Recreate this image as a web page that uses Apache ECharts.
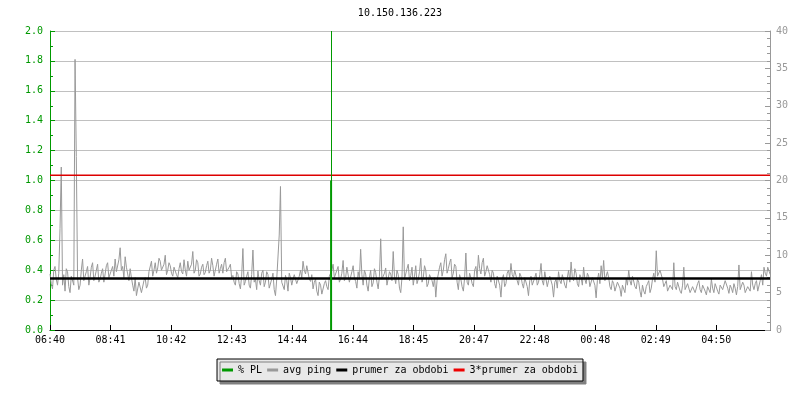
<!DOCTYPE html>
<html>
<head>
<meta charset="utf-8">
<script src="https://cdn.jsdelivr.net/npm/echarts@6/dist/echarts.min.js"></script>
<style>html,body{margin:0;padding:0;background:#fff}#c{width:800px;height:400px}</style>
</head>
<body>
<div id="c"></div>
<script>
// ---- data ----
var title = '10.150.136.223';
var xLabels = ['06:40','08:41','10:42','12:43','14:44','16:44','18:45','20:47','22:48','00:48','02:49','04:50'];
var xSpanMinutes = 1437;      // plotted time span (minutes from 06:40)
var xLabelStep = 120.9;       // minutes between labelled ticks
var pingStepMinutes = 2.5;    // sample step of avg ping
var avgPing = [
7.5,6.2,5.5,8.0,8.5,6.8,6.0,7.6,13.6,21.8,6.0,7.4,5.2,8.2,7.8,5.8,5.0,7.2,7.0,6.0,
36.2,23.2,7.0,5.4,6.0,8.0,9.5,6.6,6.5,7.8,8.5,6.0,7.0,8.4,9.0,6.6,7.2,8.0,8.8,6.4,
6.8,7.6,8.2,6.4,7.5,8.6,9.0,7.0,7.0,8.0,8.5,7.2,9.5,7.8,8.0,9.4,11.0,8.0,8.5,7.0,
9.8,8.4,7.5,6.6,8.2,7.0,6.0,5.2,7.0,4.6,4.8,6.4,6.2,5.0,5.0,6.6,7.0,5.6,6.0,7.8,
8.0,9.2,7.2,8.0,9.0,7.6,8.3,9.6,9.2,8.0,7.8,8.8,10.0,7.4,8.0,9.0,8.6,7.6,7.2,8.4,
8.5,7.4,7.0,8.2,9.0,7.8,7.5,9.4,8.0,7.2,9.2,8.0,7.8,8.8,10.5,7.6,8.0,9.4,9.0,7.2,
7.5,8.4,8.8,7.4,7.7,8.6,9.2,7.6,8.0,9.6,8.6,7.2,7.4,8.8,9.5,7.6,8.2,8.8,7.6,9.0,
9.6,7.8,8.0,8.4,8.8,7.0,7.3,6.4,6.0,7.8,7.5,6.2,5.5,7.2,10.9,6.0,6.5,7.2,7.8,6.0,
5.6,7.4,10.7,6.4,6.8,5.4,7.9,6.6,6.0,7.6,8.0,5.8,6.4,7.8,7.4,5.6,5.8,6.8,7.6,5.4,
4.6,6.8,7.0,12.7,19.2,6.4,6.2,5.4,7.3,6.6,5.2,7.6,7.0,6.0,6.8,7.4,7.6,6.2,6.3,7.2,
8.0,7.0,9.2,8.0,7.5,8.6,8.8,6.8,6.5,7.4,5.5,6.4,6.8,5.2,4.6,6.4,6.0,4.8,5.0,6.2,
6.6,5.8,5.4,7.2,7.0,8.0,8.8,7.0,7.2,8.0,8.5,6.4,6.8,7.6,9.3,6.6,7.0,8.4,8.2,6.4,
6.2,7.8,8.6,7.0,6.5,5.6,7.8,6.8,10.8,7.4,6.0,8.0,7.5,6.0,5.2,7.0,8.0,5.8,6.3,8.2,
7.7,6.4,5.5,7.2,12.2,6.8,6.6,7.6,8.3,6.0,5.8,7.8,7.5,6.6,10.5,7.2,6.2,8.0,7.4,5.6,
5.0,7.0,13.8,6.8,7.0,8.2,8.8,6.6,7.3,8.4,6.0,7.2,8.6,6.2,6.8,7.8,9.6,6.4,7.0,8.6,
8.0,5.8,6.2,7.4,7.6,6.6,5.8,7.0,4.4,6.6,7.5,8.4,9.0,7.2,8.0,9.4,10.2,7.6,8.2,9.0,
9.5,7.0,7.6,8.8,8.5,6.4,5.4,7.4,6.8,5.8,5.2,7.0,10.3,6.4,6.0,7.6,7.0,6.2,5.8,8.0,
8.5,7.0,10.0,8.2,7.5,9.0,9.6,7.2,7.8,8.6,8.8,7.4,6.4,8.0,7.6,6.2,5.6,7.2,7.0,6.0,
4.4,6.8,7.4,5.8,6.2,7.6,8.0,7.0,8.9,7.4,7.0,8.0,8.2,6.6,6.0,7.6,7.2,6.2,5.6,7.0,
6.8,5.8,4.6,6.6,7.2,6.0,5.8,7.0,7.6,6.0,6.4,7.4,8.9,6.6,6.0,7.8,7.8,5.8,6.6,7.2,
7.4,6.0,4.4,6.4,6.8,5.6,7.8,6.6,6.2,7.4,7.5,6.0,5.6,7.0,8.0,6.4,9.1,7.0,6.6,8.2,
7.6,6.2,5.8,7.4,7.0,6.0,8.4,6.8,6.2,7.6,7.2,5.8,5.6,7.0,6.8,6.0,4.3,6.6,7.6,6.2,
8.6,7.0,9.3,6.6,6.4,7.8,7.0,5.8,5.4,6.6,6.2,5.2,5.0,6.4,6.6,5.6,4.5,6.0,5.8,5.0,
6.8,6.0,8.0,6.6,6.0,7.2,7.4,5.8,5.5,6.8,6.4,5.2,4.4,6.0,5.2,4.8,5.8,6.2,6.6,5.0,
5.6,6.8,7.6,6.4,10.6,7.2,7.0,8.0,8.2,6.8,5.8,6.2,6.6,5.2,5.0,6.0,6.0,5.4,9.0,5.8,
5.4,6.4,6.2,5.2,4.9,6.0,8.4,5.4,5.6,6.2,6.4,5.0,4.8,5.8,5.8,5.0,5.2,6.2,6.6,5.4,
5.0,6.0,6.2,5.2,4.7,5.8,5.6,5.0,6.8,5.6,5.0,6.2,6.0,5.2,4.8,6.0,5.8,5.4,5.2,6.6,
6.4,5.6,4.9,6.0,5.6,5.0,6.2,5.6,4.7,5.8,8.7,5.4,5.2,6.4,6.0,5.0,4.8,5.8,5.8,5.2,
7.8,6.0,5.4,6.2,6.6,5.2,5.0,6.6,7.4,6.0,8.4,7.6,7.2,8.4,8.2,7.4
];
var plTimes = [561, 561];     // packet-loss event (minutes from 06:40)
var plValues = [0, 1.0];      // % PL
var plPeakTime = 561;
var meanPing = 6.9;           // prumer za obdobi (ms)
var meanFactor = 3;           // 3*prumer za obdobi

// ---- build ----
var FONT = 'DejaVu Sans Mono';
var GREEN = '#009900';
var pingData = avgPing.map(function (v, i) { return [i * pingStepMinutes, v]; });
var plData = plTimes.map(function (t, i) { return [t, plValues[i]]; });
var meanData = [[0, meanPing], [xSpanMinutes, meanPing]];
var mean3Data = [[0, meanPing * meanFactor], [xSpanMinutes, meanPing * meanFactor]];

var chart = echarts.init(document.getElementById('c'), null, {renderer: 'canvas'});
chart.setOption({
  animation: false,
  backgroundColor: '#ffffff',
  textStyle: {fontFamily: FONT},
  title: {
    text: title, left: 'center', top: 3,
    textStyle: {fontFamily: FONT, fontSize: 10, fontWeight: 'normal', color: '#000'}
  },
  grid: {left: 50, right: 30, top: 31, bottom: 70, containLabel: false},
  legend: {
    left: 'center', top: 359,
    padding: [6, 5], itemGap: 5,
    itemWidth: 11, itemHeight: 3, icon: 'rect',
    backgroundColor: '#e8e8e8', borderColor: '#000', borderWidth: 1,
    shadowColor: '#808080', shadowOffsetX: 3, shadowOffsetY: 3, shadowBlur: 0,
    textStyle: {fontFamily: FONT, fontSize: 10, color: '#000'},
    data: ['% PL', 'avg ping', 'prumer za obdobi', '3*prumer za obdobi']
  },
  xAxis: {
    type: 'value', min: 0, max: xSpanMinutes, interval: xLabelStep,
    axisLine: {show: true, lineStyle: {color: '#000', width: 1}},
    axisTick: {show: true, inside: true, length: 5, lineStyle: {color: '#000'}},
    splitLine: {show: false},
    axisLabel: {
      margin: 5, color: '#000', fontFamily: FONT, fontSize: 10, showMaxLabel: false,
      formatter: function (v) {
        var k = Math.round(v / xLabelStep);
        if (Math.abs(v - k * xLabelStep) > 0.5) return '';
        return xLabels[k] || '';
      }
    }
  },
  yAxis: [{
    type: 'value', position: 'left', min: 0, max: 2, interval: 0.2,
    axisLine: {show: true, lineStyle: {color: GREEN, width: 1}},
    axisTick: {show: true, inside: true, length: 5, lineStyle: {color: GREEN}},
    minorTick: {show: true, splitNumber: 2, length: 3, lineStyle: {color: GREEN}},
    splitLine: {show: true, lineStyle: {color: '#c0c0c0', width: 1}},
    axisLabel: {margin: 7, color: GREEN, fontFamily: FONT, fontSize: 10,
      formatter: function (v) { return v.toFixed(1); }}
  }, {
    type: 'value', position: 'right', min: 0, max: 40, interval: 5,
    axisLine: {show: true, lineStyle: {color: '#999999', width: 1}},
    axisTick: {show: true, inside: true, length: 5, lineStyle: {color: '#999999'}},
    minorTick: {show: true, splitNumber: 5, length: 3, lineStyle: {color: '#999999'}},
    splitLine: {show: false},
    axisLabel: {margin: 6, color: '#999999', fontFamily: FONT, fontSize: 10}
  }],
  series: [{
    name: 'avg ping', type: 'line', yAxisIndex: 1, data: pingData,
    color: '#999999', showSymbol: false, symbol: 'none',
    lineStyle: {color: '#999999', width: 1}, z: 2
  }, {
    name: 'prumer za obdobi', type: 'line', yAxisIndex: 1, data: meanData,
    color: '#000000', showSymbol: false, symbol: 'none',
    lineStyle: {color: '#000000', width: 2.5}, z: 3
  }, {
    name: '3*prumer za obdobi', type: 'line', yAxisIndex: 1, data: mean3Data,
    color: '#ee0000', showSymbol: false, symbol: 'none',
    lineStyle: {color: '#dd0000', width: 1.5}, z: 3
  }, {
    name: '% PL', type: 'line', yAxisIndex: 0, data: plData,
    color: GREEN, showSymbol: false, symbol: 'none',
    lineStyle: {color: GREEN, width: 2}, z: 4,
    markLine: {
      silent: true, symbol: ['none', 'none'], label: {show: false},
      lineStyle: {color: GREEN, width: 1, type: 'solid'},
      data: [{xAxis: plPeakTime}]
    }
  }]
});
</script>
</body>
</html>
